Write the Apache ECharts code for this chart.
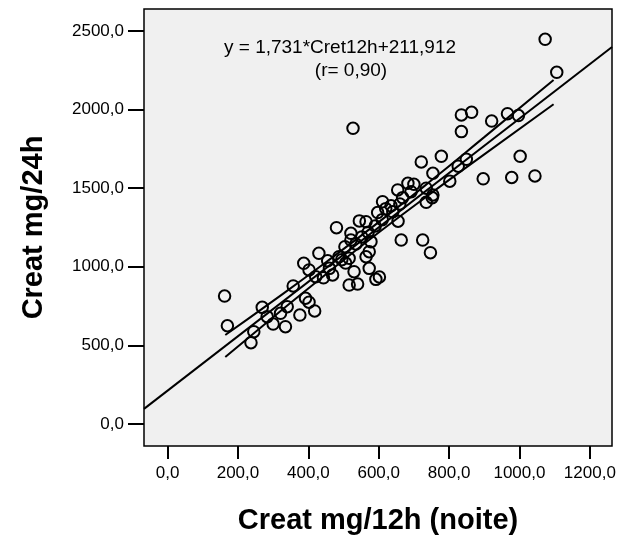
<!DOCTYPE html>
<html>
<head>
<meta charset="utf-8">
<script src="https://cdn.jsdelivr.net/npm/echarts@6/dist/echarts.min.js"></script>
<style>
html,body{margin:0;padding:0;background:#fff;}
#c{width:619px;height:540px;}
</style>
</head>
<body>
<div id="c"></div>
<script>
// Scatter data: Creat mg/12h (x) vs Creat mg/24h (y)
var creat12h = [162,170,237,245,269,283,300,321,335,340,357,376,392,402,418,
  387,402,421,430,443,455,469,460,487,495,506,516,480,504,521,521,535,552,570,590,610,
  516,540,530,545,564,564,573,573,578,592,602,597,611,635,620,640,654,655,660,668,664,
  683,692,700,725,747,754,735,752,735,527,
  721,778,754,802,826,849,835,835,864,921,966,997,1002,897,978,1044,1073,1106];
var creat24h = [814,625,517,587,742,683,636,704,619,746,878,693,800,775,719,
  1022,980,937,1086,930,1038,948,990,1064,1045,1024,1054,1249,1128,1213,1170,1145,1190,1220,1260,1300,
  884,890,969,1292,1287,1064,1096,990,1160,920,935,1345,1414,1388,1370,1350,1489,1290,1400,1440,1170,
  1531,1478,1525,1170,1090,1457,1410,1440,1500,1881,
  1667,1703,1595,1545,1640,1684,1860,1966,1983,1927,1974,1962,1703,1560,1568,1578,2447,2237];

// Regression line (from annotation)
var regSlope = 1.731;
var regIntercept = 211.912;

// Confidence band for the mean
var ciX     = [164, 300, 450, 600, 750, 900, 1097];
var ciUpper = [566, 783, 1029, 1284, 1550, 1825, 2188];
var ciLower = [426, 679, 953, 1218, 1470, 1715, 2034];

// Axis ranges and ticks
var xMin = -67, xMax = 1263;
var yMin = -140, yMax = 2640;
var xTicks = [0, 200, 400, 600, 800, 1000, 1200];
var yTicks = [0, 500, 1000, 1500, 2000, 2500];

var eqText = 'y = 1,731*Cret12h+211,912';
var rText = '(r= 0,90)';

var pts = creat12h.map(function(x, i){ return [x, creat24h[i]]; });
var regLine = [[xMin, regSlope*xMin + regIntercept], [xMax, regSlope*xMax + regIntercept]];
var upLine = ciX.map(function(x,i){ return [x, ciUpper[i]]; });
var loLine = ciX.map(function(x,i){ return [x, ciLower[i]]; });

function fmt(v){ return v.toFixed(1).replace('.', ','); }

var font = 'Liberation Sans, Arial, sans-serif';
var chart = echarts.init(document.getElementById('c'), null, {renderer:'canvas'});
chart.setOption({
  animation: false,
  backgroundColor: '#ffffff',
  grid: {left:144, right:7, top:9, bottom:94, show:true, backgroundColor:'#f0f0f0', borderColor:'#000', borderWidth:1.5},
  xAxis: {
    type:'value', min:xMin, max:xMax,
    name:'Creat mg/12h (noite)', nameLocation:'middle', nameGap:60,
    nameTextStyle:{fontFamily:font, fontSize:29, fontWeight:'bold', color:'#000'},
    axisLine:{show:false, onZero:false}, splitLine:{show:false},
    axisTick:{show:true, inside:false, length:13, customValues:xTicks, lineStyle:{color:'#000', width:2}},
    axisLabel:{customValues:xTicks, margin:19, fontFamily:font, fontSize:17, color:'#000', formatter:fmt}
  },
  yAxis: {
    type:'value', min:yMin, max:yMax,
    name:'Creat mg/24h', nameLocation:'middle', nameGap:96,
    nameTextStyle:{fontFamily:font, fontSize:29, fontWeight:'bold', color:'#000'},
    axisLine:{show:false, onZero:false}, splitLine:{show:false},
    axisTick:{show:true, inside:false, length:16, customValues:yTicks, lineStyle:{color:'#000', width:2}},
    axisLabel:{customValues:yTicks, margin:20, fontFamily:font, fontSize:17, color:'#000', formatter:fmt}
  },
  graphic: [
    {type:'text', silent:true,
     style:{text:eqText, x:340, y:48, fontFamily:font, fontSize:19, fill:'#000', align:'center', verticalAlign:'middle'}},
    {type:'text', silent:true,
     style:{text:rText, x:351, y:71, fontFamily:font, fontSize:19, fill:'#000', align:'center', verticalAlign:'middle'}}
  ],
  series: [
    {type:'line', data:regLine, showSymbol:false, symbol:'none', lineStyle:{color:'#000', width:2}, z:3, silent:true},
    {type:'line', data:upLine, smooth:true, showSymbol:false, symbol:'none', lineStyle:{color:'#000', width:2}, z:3, silent:true},
    {type:'line', data:loLine, smooth:true, showSymbol:false, symbol:'none', lineStyle:{color:'#000', width:2}, z:3, silent:true},
    {type:'scatter', data:pts, symbol:'circle', symbolSize:11.5,
     itemStyle:{color:'rgba(0,0,0,0)', borderColor:'#000', borderWidth:2, opacity:1}, z:4}
  ]
});
</script>
</body>
</html>
